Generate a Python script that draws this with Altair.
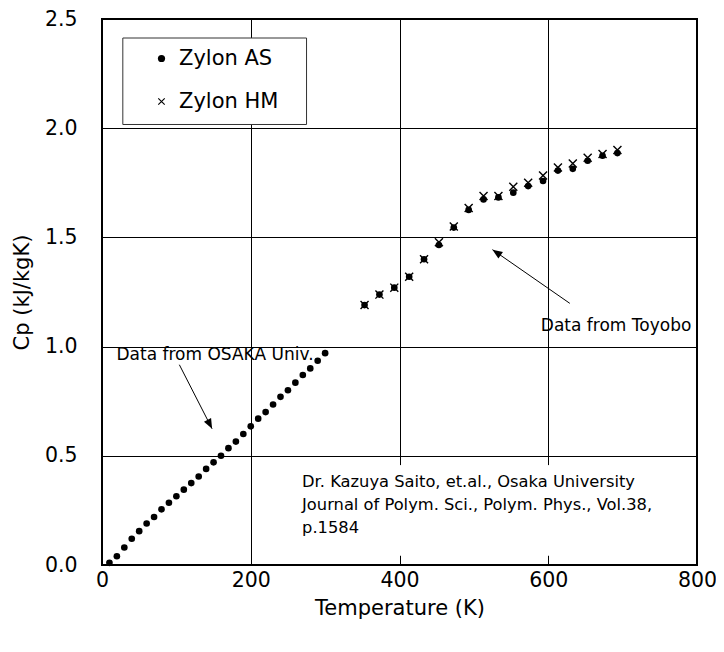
import math
import altair as alt
import pandas as pd

# ---------------- data ----------------
osaka_T = [10, 20, 30, 40, 50, 60, 70, 80, 90, 100, 110, 120, 130, 140, 150,
           160, 170, 180, 190, 200, 210, 220, 230, 240, 250, 260, 270, 280, 290, 300]
osaka_cp = [0.01, 0.04, 0.08, 0.12, 0.155, 0.19, 0.22, 0.255, 0.285, 0.315,
            0.345, 0.375, 0.405, 0.44, 0.47, 0.50, 0.535, 0.565, 0.60, 0.635,
            0.67, 0.70, 0.735, 0.77, 0.80, 0.835, 0.87, 0.90, 0.935, 0.97]

toyobo_T = [353, 373, 393, 413, 433, 453, 473, 493, 513, 533, 553, 573, 593,
            613, 633, 653, 673, 693]
toyobo_as = [1.19, 1.238, 1.27, 1.32, 1.40, 1.465, 1.545, 1.626, 1.674, 1.683,
             1.705, 1.735, 1.758, 1.806, 1.814, 1.851, 1.874, 1.886]
toyobo_hm = [1.19, 1.238, 1.27, 1.32, 1.40, 1.478, 1.55, 1.635, 1.69, 1.69,
             1.732, 1.75, 1.783, 1.82, 1.838, 1.865, 1.882, 1.90]

series_names = ["Zylon AS", "Zylon HM"]

x_ticks = [0, 200, 400, 600, 800]
y_ticks = [0.0, 0.5, 1.0, 1.5, 2.0, 2.5]

ann_text = ["Data from OSAKA Univ.", "Data from Toyobo"]
ann_T = [19.5, 590]
ann_cp = [0.962, 1.095]

arrow_T1 = [104, 629]
arrow_cp1 = [0.917, 1.198]
arrow_T2 = [148, 525]
arrow_cp2 = [0.624, 1.444]

cite_lines = ["Dr. Kazuya Saito, et.al., Osaka University",
              "Journal of Polym. Sci., Polym. Phys., Vol.38,",
              "p.1584"]
cite_T = [269, 269, 269]
cite_cp = [0.382, 0.275, 0.168]

# background boxes (legend frame, citation box) in data units
box_T1 = [28, 260]
box_T2 = [275, 797]
box_cp1 = [2.413, 0.045]
box_cp2 = [2.017, 0.455]
box_stroke = ["#333333", "white"]

# ---------------- layout ----------------
W, H = 595, 546
XMAX, YMAX = 800, 2.5
FONT = "DejaVu Sans"
# filled "x" glyph (two thin bars) so that it renders with a plain fill
CROSS = ("M-1,-0.78L-0.78,-1L1,0.78L0.78,1Z"
         "M1,-0.78L-0.78,1L-1,0.78L0.78,-1Z")
ARROWHEAD = "M0,0L0.8,2L-0.8,2Z"

as_df = pd.DataFrame({"T": osaka_T + toyobo_T, "Cp": osaka_cp + toyobo_as,
                      "series": series_names[0]})
hm_df = pd.DataFrame({"T": toyobo_T, "Cp": toyobo_hm, "series": series_names[1]})

angles = []
for t1, c1, t2, c2 in zip(arrow_T1, arrow_cp1, arrow_T2, arrow_cp2):
    dx = (t2 - t1) * W / XMAX
    dy = -(c2 - c1) * H / YMAX
    angles.append(math.degrees(math.atan2(dx, -dy)) % 360)

arrow_df = pd.DataFrame({"T": arrow_T1, "Cp": arrow_cp1, "T2": arrow_T2,
                         "Cp2": arrow_cp2, "angle": angles})
ann_df = pd.DataFrame({"T": ann_T, "Cp": ann_cp, "text": ann_text})
cite_df = pd.DataFrame({"T": cite_T, "Cp": cite_cp, "text": cite_lines})
box_df = pd.DataFrame({"T": box_T1, "T2": box_T2, "Cp": box_cp1, "Cp2": box_cp2,
                       "stroke": box_stroke})

xscale = alt.Scale(domain=[0, XMAX], nice=False, zero=True)
yscale = alt.Scale(domain=[0, YMAX], nice=False, zero=True)

x_axis = alt.Axis(values=x_ticks, title="Temperature (K)", labelPadding=5,
                  titlePadding=7, labelFlush=False, labelOverlap=False)
y_axis = alt.Axis(values=y_ticks, title="Cp (kJ/kgK)", format=".1f",
                  labelPadding=25, titlePadding=12, labelOverlap=False)

shape_scale = alt.Scale(domain=series_names, range=["circle", CROSS])
legend = alt.Legend(orient="none", legendX=49, legendY=29, title=None,
                    labelFontSize=21, labelFont=FONT, labelColor="black",
                    symbolSize=52, rowPadding=21, labelOffset=7,
                    symbolFillColor="black", symbolStrokeColor="black",
                    symbolStrokeWidth=0, padding=0)

boxes = alt.Chart(box_df).mark_rect(fill="white", strokeWidth=1).encode(
    x=alt.X("T:Q", scale=xscale, axis=x_axis),
    x2="T2:Q",
    y=alt.Y("Cp:Q", scale=yscale, axis=y_axis),
    y2="Cp2:Q",
    stroke=alt.Stroke("stroke:N", scale=None),
)

as_pts = alt.Chart(as_df).mark_point(filled=True, fill="black", opacity=1,
                                     size=44).encode(
    x=alt.X("T:Q", scale=xscale),
    y=alt.Y("Cp:Q", scale=yscale),
    shape=alt.Shape("series:N", scale=shape_scale, legend=legend),
)

hm_pts = alt.Chart(hm_df).mark_point(filled=True, fill="black", opacity=1,
                                     size=81).encode(
    x=alt.X("T:Q", scale=xscale),
    y=alt.Y("Cp:Q", scale=yscale),
    shape=alt.Shape("series:N", scale=shape_scale, legend=legend),
)

arrow_lines = alt.Chart(arrow_df).mark_rule(color="black", strokeWidth=1).encode(
    x=alt.X("T:Q", scale=xscale), y=alt.Y("Cp:Q", scale=yscale),
    x2="T2:Q", y2="Cp2:Q",
)
arrow_heads = alt.Chart(arrow_df).mark_point(shape=ARROWHEAD, filled=True,
                                             fill="black", opacity=1,
                                             size=100).encode(
    x=alt.X("T2:Q", scale=xscale), y=alt.Y("Cp2:Q", scale=yscale),
    angle=alt.Angle("angle:Q", scale=None),
)

ann = alt.Chart(ann_df).mark_text(align="left", baseline="middle", fontSize=17,
                                  font=FONT, color="black").encode(
    x=alt.X("T:Q", scale=xscale), y=alt.Y("Cp:Q", scale=yscale), text="text:N",
)
cite = alt.Chart(cite_df).mark_text(align="left", baseline="middle", fontSize=16.3,
                                    font=FONT, color="black").encode(
    x=alt.X("T:Q", scale=xscale), y=alt.Y("Cp:Q", scale=yscale), text="text:N",
)

chart = alt.layer(boxes, arrow_lines, arrow_heads, ann, cite, as_pts, hm_pts).resolve_scale(
    shape="shared"
).properties(
    width=W, height=H,
    autosize=alt.AutoSizeParams(type="none"),
    padding={"left": 94, "top": 11, "right": 19, "bottom": 79},
    background="white",
).configure_view(
    stroke="black", strokeWidth=2,
).configure_axis(
    grid=True, gridColor="black", gridWidth=1, gridOpacity=1,
    domain=False, ticks=False,
    labelFont=FONT, labelFontSize=20.5, labelColor="black",
    titleFont=FONT, titleFontSize=21, titleFontWeight="normal", titleColor="black",
)

chart.save("out.html", embed_options={"renderer": "svg", "actions": False})
